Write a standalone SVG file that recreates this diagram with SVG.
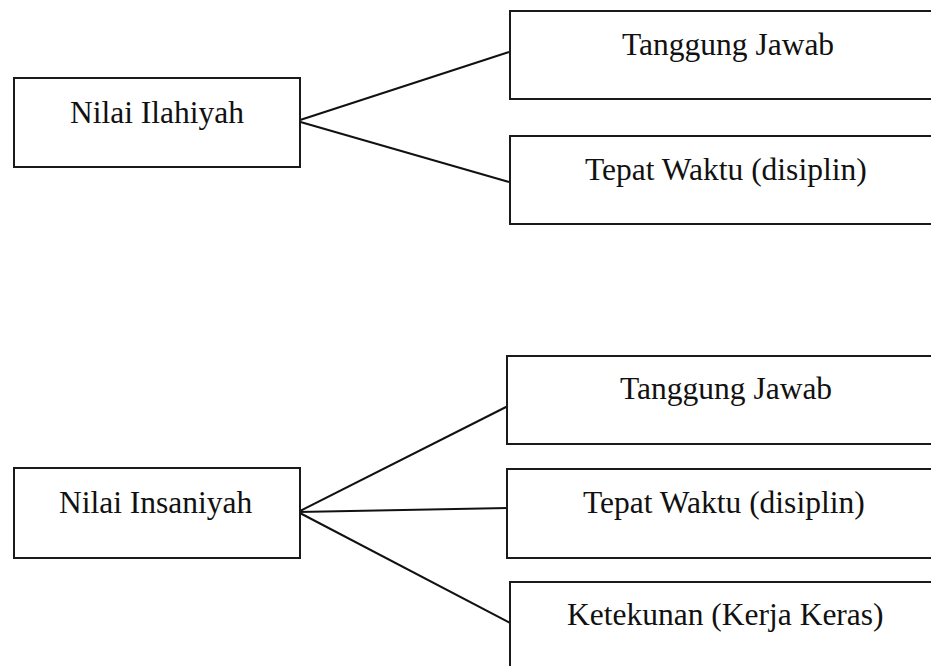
<svg xmlns="http://www.w3.org/2000/svg" width="931" height="666" viewBox="0 0 931 666">
<style>
rect.box{fill:#fff;stroke:#1a1a1a;stroke-width:2}
text{font-family:"Liberation Serif","Times New Roman",serif;font-size:31.5px;fill:#111}
.conn line{stroke:#111;stroke-width:2}
</style>
<rect width="931" height="666" fill="#fff"/>
<g class="conn" id="connectors">
<line x1="297" y1="121" x2="509" y2="52"/>
<line x1="297" y1="121" x2="509" y2="182"/>
<line x1="298" y1="512" x2="508" y2="406"/>
<line x1="298" y1="512" x2="508" y2="508"/>
<line x1="298" y1="512" x2="512" y2="624"/>
</g>
<g id="n-ilahiyah">
<rect class="box" x="14" y="78" width="286" height="89"/>
<text x="70" y="123">Nilai Ilahiyah</text>
</g>
<g id="n-tj1">
<rect class="box" x="510" y="11" width="440" height="88"/>
<text x="622" y="55">Tanggung Jawab</text>
</g>
<g id="n-tw1">
<rect class="box" x="510" y="136" width="440" height="88"/>
<text x="585" y="180">Tepat Waktu (disiplin)</text>
</g>
<g id="n-insaniyah">
<rect class="box" x="14" y="468" width="286" height="90"/>
<text x="59" y="513">Nilai Insaniyah</text>
</g>
<g id="n-tj2">
<rect class="box" x="507" y="356" width="440" height="88"/>
<text x="620" y="399">Tanggung Jawab</text>
</g>
<g id="n-tw2">
<rect class="box" x="507" y="469" width="440" height="89"/>
<text x="583" y="513">Tepat Waktu (disiplin)</text>
</g>
<g id="n-ketekunan">
<rect class="box" x="510" y="582" width="440" height="120"/>
<text x="567" y="625">Ketekunan (Kerja Keras)</text>
</g>
</svg>
